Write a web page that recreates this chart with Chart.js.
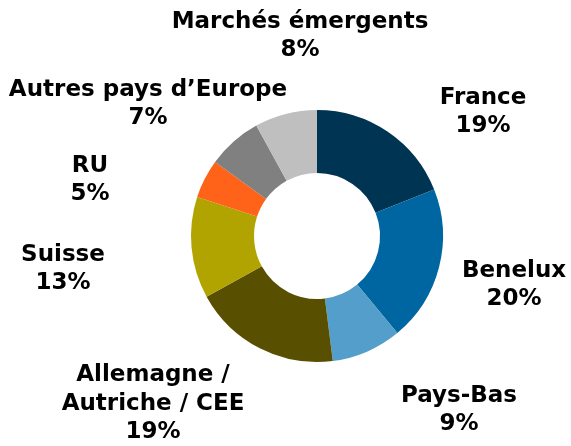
<!DOCTYPE html>
<html>
<head>
<meta charset="utf-8">
<script src="https://cdn.jsdelivr.net/npm/chart.js@4"></script>
<style>
  html, body { margin: 0; padding: 0; background: #fff; }
  #wrap { width: 571px; height: 446px; }
</style>
</head>
<body>
<div id="wrap"><canvas id="c" width="571" height="446"></canvas></div>
<script>
const labels = ['France', 'Benelux', 'Pays-Bas', 'Allemagne / Autriche / CEE', 'Suisse', 'RU', 'Autres pays d\u2019Europe', 'Marchés émergents']
const values = [19, 20, 9, 19, 13, 5, 7, 8]
const colors = ['#003453', '#0066A1', '#539ECB', '#585000', '#B1A400', '#FF6319', '#808080', '#BFBFBF']

// label text lines and where each block sits relative to the doughnut centre
const labelLines = [
  ['France'],
  ['Benelux'],
  ['Pays-Bas'],
  ['Allemagne /', 'Autriche / CEE'],
  ['Suisse'],
  ['RU'],
  ['Autres pays d\u2019Europe'],
  ['Marchés émergents']
]
const labelOffset = [
  [166, -124], [197, 49], [142, 174], [-164, 168],
  [-254, 33], [-227, -56], [-169, -132], [-17, -200]
]

const outsideLabels = {
  id: 'outsideLabels',
  afterDraw(chart) {
    const ctx = chart.ctx
    const arcs = chart.getDatasetMeta(0).data
    const lh = 28.5
    ctx.save()
    ctx.font = 'bold 23px "DejaVu Sans", Verdana, sans-serif'
    ctx.fillStyle = '#000'
    ctx.textAlign = 'center'
    ctx.textBaseline = 'middle'
    arcs.forEach((arc, i) => {
      const lines = labelLines[i].concat([values[i] + '%'])
      const cx = arc.x + labelOffset[i][0]
      const cy = arc.y + labelOffset[i][1]
      const top = cy - (lines.length - 1) * lh / 2
      lines.forEach((t, k) => ctx.fillText(t, cx, top + k * lh))
    })
    ctx.restore()
  }
}

new Chart(document.getElementById('c'), {
  type: 'doughnut',
  data: {
    labels,
    datasets: [{ data: values, backgroundColor: colors, borderWidth: 0 }]
  },
  options: {
    responsive: false,
    animation: false,
    cutout: '50%',
    layout: { padding: { left: 191, right: 128, top: 110, bottom: 84 } },
    plugins: { legend: { display: false }, tooltip: { enabled: false } }
  },
  plugins: [outsideLabels]
})
</script>
</body>
</html>
